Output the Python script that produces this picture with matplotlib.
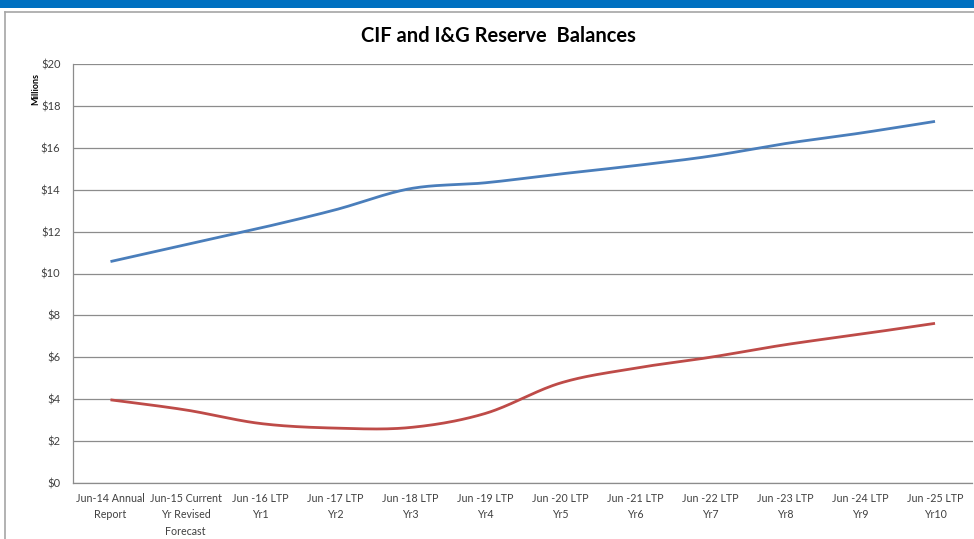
import numpy as np
import matplotlib
matplotlib.use("Agg")
import matplotlib.pyplot as plt
from matplotlib.patches import Rectangle
from matplotlib.lines import Line2D

plt.rcParams['font.family'] = ['Lato', 'DejaVu Sans']

# balances in $ millions
categories = ["Jun-14 Annual\nReport", "Jun-15 Current\nYr Revised\nForecast",
              "Jun -16 LTP\nYr1", "Jun -17 LTP\nYr2", "Jun -18 LTP\nYr3",
              "Jun -19 LTP\nYr4", "Jun -20 LTP\nYr5", "Jun -21 LTP\nYr6",
              "Jun -22 LTP\nYr7", "Jun -23 LTP\nYr8", "Jun -24 LTP\nYr9",
              "Jun -25 LTP\nYr10"]
cif = [10.57, 11.37, 12.17, 13.04, 14.05, 14.33, 14.75, 15.15, 15.60, 16.20, 16.70, 17.26]
ig = [3.97, 3.49, 2.84, 2.62, 2.65, 3.32, 4.77, 5.48, 6.00, 6.60, 7.10, 7.62]
yticks = [0, 2, 4, 6, 8, 10, 12, 14, 16, 18, 20]


def smooth(x, y, n=30):
    # Catmull-Rom style bezier through every point (spreadsheet "smoothed line")
    x = np.asarray(x, float)
    y = np.asarray(y, float)
    px = np.concatenate([[x[0]], x, [x[-1]]])
    py = np.concatenate([[y[0]], y, [y[-1]]])
    xs, ys = [], []
    t = np.linspace(0, 1, n)
    for i in range(1, len(px) - 2):
        p0 = np.array([px[i], py[i]])
        p3 = np.array([px[i + 1], py[i + 1]])
        c1 = p0 + (np.array([px[i + 1], py[i + 1]]) - np.array([px[i - 1], py[i - 1]])) / 6
        c2 = p3 - (np.array([px[i + 2], py[i + 2]]) - np.array([px[i], py[i]])) / 6
        b = ((1 - t) ** 3)[:, None] * p0 + (3 * (1 - t) ** 2 * t)[:, None] * c1 \
            + (3 * (1 - t) * t ** 2)[:, None] * c2 + (t ** 3)[:, None] * p3
        xs.append(b[:, 0])
        ys.append(b[:, 1])
    return np.concatenate(xs), np.concatenate(ys)


W, H = 974, 539
fig = plt.figure(figsize=(W / 100, H / 100), dpi=100)

# blue banner and panel frame
fig.patches.append(Rectangle((0, 1 - 7.5 / H), 1, 7.5 / H, transform=fig.transFigure,
                             facecolor="#0070C0", edgecolor="none", zorder=0))
fig.lines.append(Line2D([5 / W, 5 / W], [0, 1 - 12 / H], transform=fig.transFigure,
                        color="#A6A6A6", lw=1.2))
fig.lines.append(Line2D([5 / W, 1], [1 - 12 / H, 1 - 12 / H], transform=fig.transFigure,
                        color="#A6A6A6", lw=1.2))

left, right, top, bottom = 73, 972.5, 64, 483
ax = fig.add_axes([left / W, 1 - bottom / H, (right - left) / W, (bottom - top) / H])

x = np.arange(len(categories))
bx, by = smooth(x, cif)
rx, ry = smooth(x, ig)
ax.plot(bx, by, color="#4A7EBB", lw=2.0, solid_capstyle="butt", zorder=3)
ax.plot(rx, ry, color="#BE4B48", lw=2.0, solid_capstyle="butt", zorder=3)

ax.set_xlim(-0.5, len(categories) - 0.5)
ax.set_ylim(0, 20)
ax.set_yticks(yticks)
ax.set_yticklabels([f"${v}" for v in yticks], fontsize=8, color="#404040")
ax.set_xticks(x)
ax.set_xticklabels(categories, fontsize=7.7, color="#404040", linespacing=1.6, va="top")
ax.tick_params(axis="both", length=0)
ax.tick_params(axis="y", pad=9)
ax.tick_params(axis="x", pad=7)

ax.grid(axis="y", color="#8C8C8C", lw=0.9)
ax.set_axisbelow(True)
for side in ("top", "right"):
    ax.spines[side].set_visible(False)
for side in ("left", "bottom"):
    ax.spines[side].set_color("#8C8C8C")
    ax.spines[side].set_linewidth(0.9)

fig.text(36 / W, 1 - 89 / H, "Millions", rotation=90, fontsize=6.5, fontweight="bold",
         ha="center", va="center", color="#000000")
fig.text(498 / W, 1 - 36 / H, "CIF and I&G Reserve  Balances", fontsize=14.5,
         fontweight="bold", ha="center", va="center", color="#000000")

fig.savefig("out.png", dpi=100)
